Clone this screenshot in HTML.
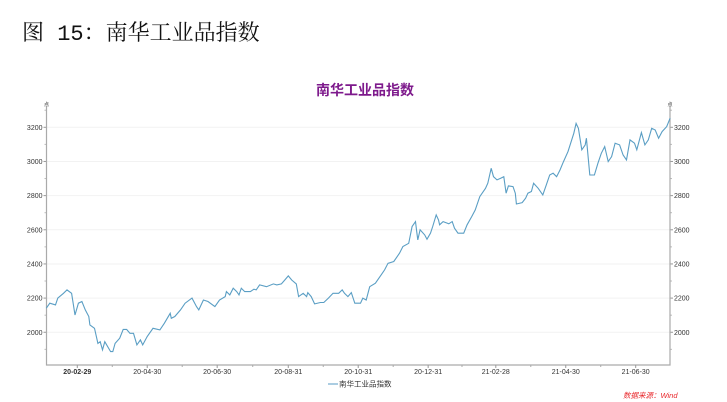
<!DOCTYPE html>
<html><head><meta charset="utf-8">
<style>
body{margin:0;width:727px;height:402px;background:#fff;overflow:hidden;font-family:"Liberation Sans","Noto Sans CJK SC",sans-serif;}
#hdr{position:absolute;left:22px;top:16px;font-size:22px;font-family:"Liberation Mono","Noto Serif CJK SC",serif;color:#111;letter-spacing:0px;}
svg{position:absolute;left:0;top:0;}
</style></head>
<body>
<div id="hdr">图 15：南华工业品指数</div>
<svg id="c" width="727" height="402"></svg>
<script>
const tickValues=[2000,2200,2400,2600,2800,3000,3200];
const xTickLabels=["20-02-29","20-04-30","20-06-30","20-08-31","20-10-31","20-12-31","21-02-28","21-04-30","21-06-30"];
const xTickDays=[0,61,122,184,245,306,365,426,487];
const days=[-27,-24,-19,-17,-12,-9,-5,-2,1,4,7,10,11,15,18,20,22,24,29,31,33,37,40,43,46,49,52,55,57,61,66,72,76,81,82,85,90,94,100,104,106,110,114,120,124,129,130,133,136,139,141,143,146,151,154,156,159,165,171,174,178,181,184,187,191,193,197,200,201,204,207,212,215,219,223,228,231,233,236,239,242,247,249,252,255,260,264,268,271,276,279,281,284,289,292,295,296,297,299,303,305,308,310,313,315,316,319,324,327,329,332,337,340,344,347,351,356,358,361,363,366,369,372,374,376,380,382,383,388,391,393,396,398,402,406,409,412,415,418,421,424,428,433,435,437,440,443,444,447,451,454,457,460,463,466,469,473,476,479,482,486,488,492,495,498,501,504,507,510,514,517];
const values=[2141,2170,2160,2200,2228,2248,2228,2101,2170,2180,2131,2092,2043,2023,1935,1945,1897,1945,1887,1887,1935,1965,2017,2017,1994,1994,1926,1955,1926,1975,2023,2014,2053,2111,2082,2092,2131,2170,2200,2150,2131,2189,2180,2150,2189,2209,2238,2219,2258,2238,2219,2258,2238,2238,2252,2248,2277,2267,2283,2277,2283,2306,2330,2306,2283,2209,2228,2209,2232,2209,2166,2174,2174,2200,2228,2228,2248,2228,2209,2232,2170,2170,2200,2189,2267,2287,2326,2365,2404,2414,2443,2463,2502,2521,2619,2648,2590,2541,2600,2570,2545,2580,2619,2687,2658,2629,2648,2635,2648,2609,2580,2580,2629,2677,2716,2794,2843,2873,2960,2911,2892,2901,2911,2814,2857,2853,2814,2751,2759,2785,2814,2824,2873,2843,2804,2863,2921,2931,2911,2950,2999,3058,3165,3223,3194,3068,3097,3136,2921,2921,2989,3048,3087,2999,3028,3107,3097,3038,3009,3126,3107,3068,3169,3097,3126,3194,3184,3136,3175,3204,3253];

const NS="http://www.w3.org/2000/svg";
const svg=document.getElementById('c');
const L=46.5,R=670,T=106,B=365;
const xs=d=>77.3+d*1.1466;
const ys=v=>127.3-(v-3200)*0.1708;
function el(tag,attrs,txt){const e=document.createElementNS(NS,tag);for(const k in attrs)e.setAttribute(k,attrs[k]);if(txt!==undefined)e.textContent=txt;svg.appendChild(e);return e;}

const title=el('text',{x:365,y:95,'text-anchor':'middle','font-size':14,'font-weight':'bold',fill:'#7e1a8c'},'南华工业品指数');



tickValues.forEach(v=>{
  const g=el('line',{x1:L,x2:R,y1:ys(v),y2:ys(v),stroke:'#f2f2f2','stroke-width':1});
  
  
  const t1=el('text',{x:L-4,y:ys(v)+2.5,'text-anchor':'end','font-size':7,fill:'#333'},v);
  
  
  const t2=el('text',{x:R+4,y:ys(v)+2.5,'text-anchor':'start','font-size':7,fill:'#333'},v);
  
  
  el('line',{x1:L-3,x2:L,y1:ys(v),y2:ys(v),stroke:'#999'});
  el('line',{x1:R,x2:R+3,y1:ys(v),y2:ys(v),stroke:'#999'});
});
for(let v=1900;v<=3300;v+=100){if(v%200){el('line',{x1:L-2,x2:L,y1:ys(v),y2:ys(v),stroke:'#bbb'});el('line',{x1:R,x2:R+2,y1:ys(v),y2:ys(v),stroke:'#bbb'});}}

const ax=el('path',{d:`M${L},${T}V${B}H${R}V${T}`,fill:'none',stroke:'#aaa','stroke-width':1.2});


el('text',{x:L,y:T,'text-anchor':'middle','font-size':5,fill:'#333'},'点');
el('text',{x:R,y:T,'text-anchor':'middle','font-size':5,fill:'#333'},'点');

xTickLabels.forEach((lab,i)=>{
  const x=xs(xTickDays[i]);
  el('line',{x1:x,x2:x,y1:B,y2:B+3,stroke:'#999'});
  const t=el('text',{x:x,y:B+9,'text-anchor':'middle','font-size':7,fill:'#333','font-weight':i==0?'bold':'normal'},lab);
  
  
  if(i<xTickLabels.length-1){const mx=(x+xs(xTickDays[i+1]))/2;el('line',{x1:mx,x2:mx,y1:B,y2:B+2,stroke:'#aaa'});}
});

let d='';
days.forEach((dd,i)=>{d+=(i?'L':'M')+xs(dd).toFixed(1)+','+ys(values[i]).toFixed(1);});
const line=el('path',{d:d,fill:'none',stroke:'#5a9ec4','stroke-width':1.1});



const ll=el('line',{x1:328,x2:338,y1:384,y2:384,stroke:'#8fbcd8','stroke-width':1.5});


const lt=el('text',{x:339,y:386.5,'font-size':7.5,fill:'#333'},'南华工业品指数');



const src=el('text',{x:623,y:398,'font-size':7.5,fill:'#e8262a','font-style':'italic'},'数据来源：Wind');


</script>
</body></html>
